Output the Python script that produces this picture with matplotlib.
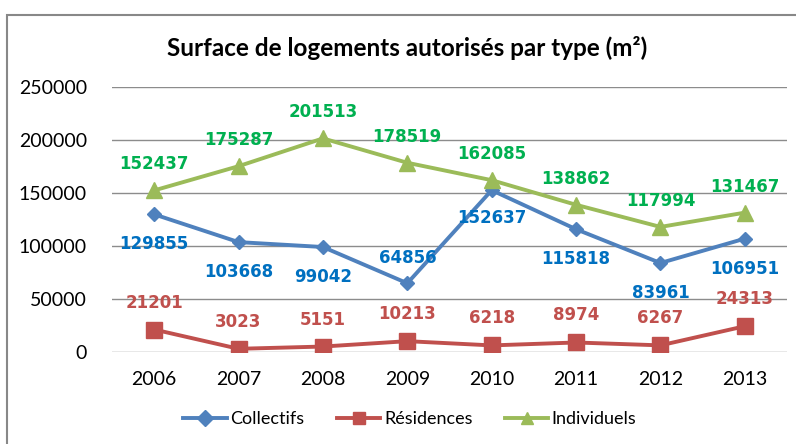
import numpy as np
import matplotlib
matplotlib.use("Agg")
import matplotlib.pyplot as plt
from matplotlib.patches import Rectangle

years = ["2006", "2007", "2008", "2009", "2010", "2011", "2012", "2013"]
collectifs = [129855, 103668, 99042, 64856, 152637, 115818, 83961, 106951]
residences = [21201, 3023, 5151, 10213, 6218, 8974, 6267, 24313]
individuels = [152437, 175287, 201513, 178519, 162085, 138862, 117994, 131467]

# label offset in px (positive = below the point)
coll_off = [30, 30, 30, -25, 28, 30, 30, 30]
res_off = [-27] * 8
ind_off = [-26] * 8

series = [
    ("Collectifs", collectifs, "#4F81BD", "#0070C0", "D", 7.5, coll_off),
    ("Résidences", residences, "#C0504D", "#C0504D", "s", 11, res_off),
    ("Individuels", individuels, "#9BBB59", "#00B050", "^", 12, ind_off),
]

fig = plt.figure(figsize=(7.96, 4.44), dpi=100)
ax = fig.add_axes([112 / 796, 92 / 444, 675 / 796, 265 / 444])

x = np.arange(len(years))
for name, vals, col, lcol, mk, ms, offs in series:
    ax.plot(x, vals, color=col, lw=2.8, marker=mk, ms=ms, mfc=col, mec=col, label=name, zorder=3)
    for xi, v, dy in zip(x, vals, offs):
        ax.annotate(str(v), (xi, v), xytext=(0, -dy * 0.72), textcoords="offset points",
                    ha="center", va="center", color=lcol, fontsize=12,
                    fontweight="bold", family="DejaVu Sans", zorder=4)

ax.set_xlim(-0.5, len(years) - 0.5)
ax.set_ylim(0, 250000)
ax.set_yticks(np.arange(0, 250001, 50000))
ax.set_xticks(x)
ax.set_xticklabels(years)
ax.yaxis.grid(True, color="#8C8C8C", lw=1)
ax.set_axisbelow(True)
for s in ax.spines.values():
    s.set_visible(False)
ax.tick_params(length=0, labelsize=14, colors="#000000")
ax.tick_params(axis="x", pad=14)
ax.tick_params(axis="y", pad=18)
for lab in ax.get_xticklabels() + ax.get_yticklabels():
    lab.set_family("Lato")

fig.text(407 / 796, 1 - 48 / 444, "Surface de logements autorisés par type (m²)",
         ha="center", va="center", fontsize=17.5, fontweight="bold", family="Lato")

leg = fig.legend(loc="center", bbox_to_anchor=(410 / 796, 1 - 419 / 444), ncol=3,
                 frameon=False, prop={"family": "Lato", "size": 13},
                 handlelength=2.4, columnspacing=1.8, handletextpad=0.2)
for h in leg.legend_handles:
    h.set_markersize(8)

fig.patches.append(Rectangle((7 / 796, -0.1), 1.2, 1 - 15 / 444 + 0.1, transform=fig.transFigure,
                             fill=False, ec="#888888", lw=1.5))

fig.savefig("out.png", dpi=100)
